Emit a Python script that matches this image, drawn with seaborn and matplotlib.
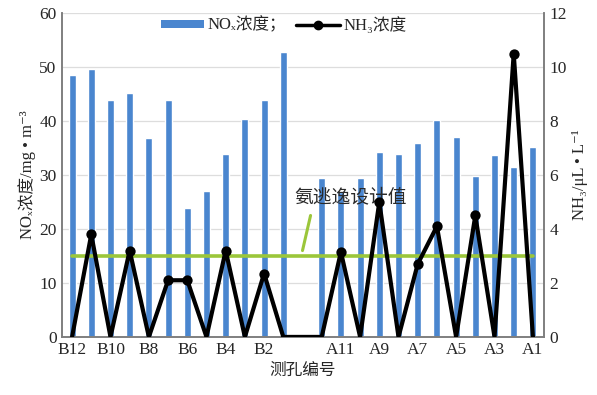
import numpy as np
import pandas as pd
import matplotlib
matplotlib.use("Agg")
import matplotlib.pyplot as plt
import seaborn as sns
from matplotlib.patches import Patch
from matplotlib.lines import Line2D

# ---- data ----
categories = ["B12", "B11", "B10", "B9", "B8", "B7", "B6", "B5", "B4", "B3", "B2", "B1",
              "", "A12", "A11", "A10", "A9", "A8", "A7", "A6", "A5", "A4", "A3", "A2", "A1"]
nox = [48.6, 49.6, 43.9, 45.2, 36.9, 43.8, 23.9, 27.0, 33.9, 40.3, 43.9, 52.7,
       0.0, 29.5, 26.8, 29.4, 34.2, 33.8, 35.9, 40.1, 37.1, 29.8, 33.7, 31.5, 35.2]
nh3 = [0.0, 3.8, 0.0, 3.2, 0.0, 2.1, 2.1, 0.0, 3.2, 0.0, 2.35, 0.0,
       0.0, 0.0, 3.15, 0.0, 5.0, 0.0, 2.7, 4.1, 0.0, 4.5, 0.0, 10.5, 0.0]
design_value = 15  # on NOx axis (=3 on NH3 axis)
left_ticks = [0, 10, 20, 30, 40, 50, 60]
right_ticks = [0, 2, 4, 6, 8, 10, 12]

sns.set_style("white")
fam = ["Liberation Serif", "Noto Sans CJK SC", "DejaVu Serif", "DejaVu Sans"]
plt.rcParams["font.family"] = fam

fig = plt.figure(figsize=(5.97, 3.95), dpi=100)
ax = fig.add_axes([0.104, 0.147, 0.807, 0.820])

pos = np.arange(len(categories))
df = pd.DataFrame({"cat": categories, "nox": nox, "nh3": nh3, "pos": pos})

sns.barplot(data=df, x="cat", y="nox", order=categories, color="#4A86CF",
            width=0.36, saturation=1, ax=ax, zorder=2)
ax.set_xlim(-0.52, 24.57)
ax.set_ylim(0, 60)
ax.set_yticks(left_ticks)
ax.yaxis.grid(True, color="#DDDDDD", linewidth=0.9, zorder=0)
ax.set_axisbelow(True)

# design value line
ax.plot([0, len(categories) - 1], [design_value, design_value], color="#9BC63A",
        linewidth=2.6, zorder=4)

ax2 = ax.twinx()
sns.lineplot(data=df, x="pos", y="nh3", color="black", linewidth=3.0, ax=ax2, zorder=5)
sns.scatterplot(data=df[df["nh3"] > 0], x="pos", y="nh3", color="black", s=55,
                edgecolor="black", linewidth=0, ax=ax2, zorder=6)
ax2.set_ylim(0, 12)
ax2.set_yticks(right_ticks)
ax2.set_xlim(-0.52, 24.57)

labels = [c if i % 2 == 0 else "" for i, c in enumerate(categories)]
ax.set_xticks(pos)
ax.set_xticklabels(labels, fontsize=12.5)
ax.tick_params(axis="both", length=0, pad=4)
ax.tick_params(axis="y", labelsize=12.5)
ax2.tick_params(axis="y", length=0, labelsize=12.5, pad=4)

for a in (ax, ax2):
    a.spines["top"].set_visible(False)
    for s in ("left", "right", "bottom"):
        a.spines[s].set_color("#7F7F7F")
        a.spines[s].set_linewidth(1.2)

ax.set_xlabel("测孔编号", fontsize=12, labelpad=3)
ax.set_ylabel("NOₓ浓度/mg • m⁻³", fontsize=12, labelpad=2)
ax2.set_ylabel("NH₃/μL • L⁻¹", fontsize=12, rotation=90, labelpad=4)

# annotation
ax.text(14.5, 25.8, "氨逃逸设计值", fontsize=13.5, ha="center", va="center",
        color="#2A2A2A", zorder=7)
ax.plot([12.0, 12.42], [16.0, 22.5], color="#9BC63A", linewidth=2.2, zorder=7)

handles = [Patch(facecolor="#4A86CF", edgecolor="none"),
           Line2D([0], [0], color="black", linewidth=2.5, marker="o", markersize=6)]
leg = ax.legend(handles, ["NOₓ浓度；", "NH₃浓度"], loc="upper center",
                bbox_to_anchor=(0.46, 1.035), ncol=2, frameon=False, fontsize=12,
                handlelength=2.6, handleheight=0.35, columnspacing=0.6, handletextpad=0.2)

fig.savefig("out.png", dpi=100)
